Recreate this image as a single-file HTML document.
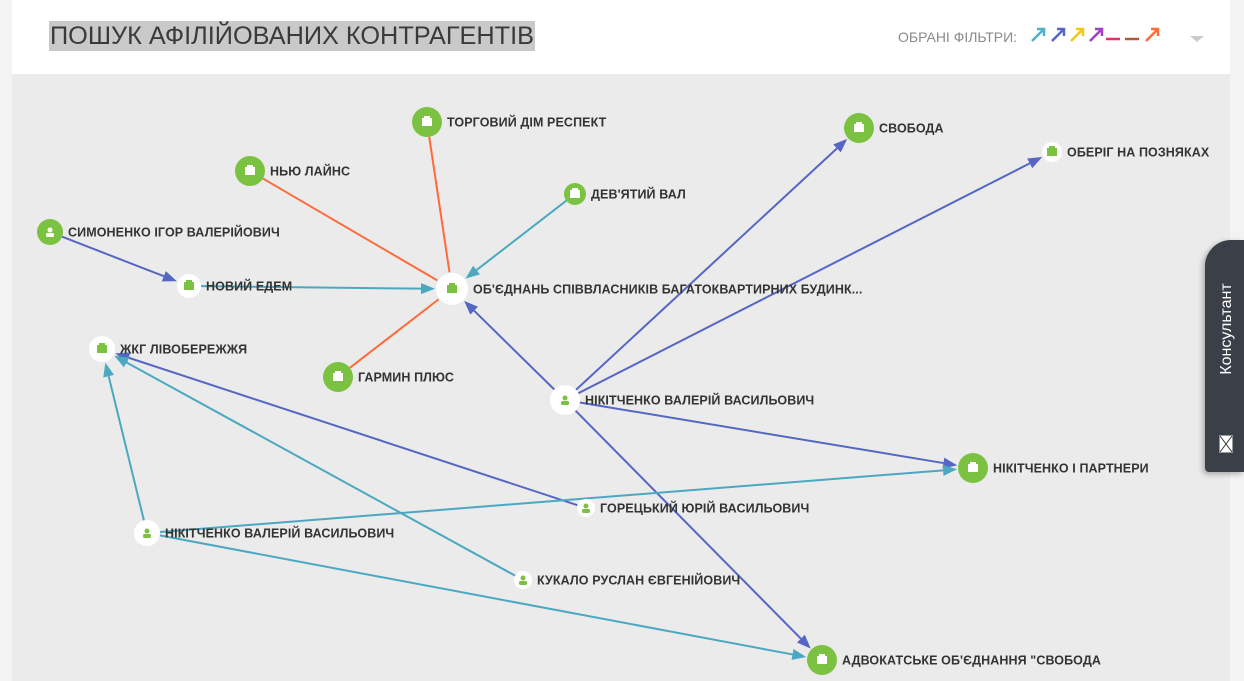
<!DOCTYPE html>
<html><head><meta charset="utf-8"><style>
body{margin:0;width:1244px;height:681px;overflow:hidden;background:#f3f3f3;font-family:"Liberation Sans",sans-serif;position:relative}
#hdr{position:absolute;left:12px;top:0;width:1218px;height:74px;background:#fff}
#title{position:absolute;left:37px;top:21px;height:30px;line-height:30px;background:#c9c9c9;color:#3a3a3a;font-size:25.3px;padding:0 1px 0 1px}
#filt{position:absolute;left:886px;top:29px;font-size:14px;color:#8a8a8a}
#cv{position:absolute;left:12px;top:74px;width:1218px;height:607px;background:#ebebeb}
#tab{position:absolute;left:1205px;top:240px;width:39px;height:232px;background:#3a3f48;border-radius:26px 0 0 4px;box-shadow:-2px 2px 6px rgba(0,0,0,.3)}
#tab span{position:absolute;left:-28px;top:80px;transform:rotate(-90deg);color:#fff;font-size:16px;width:100px;text-align:center}
svg text{font-family:"Liberation Sans",sans-serif;font-size:12.5px;font-weight:bold;fill:#333;letter-spacing:.1px}
</style></head><body>
<div id="hdr"><div id="title">ПОШУК АФІЛІЙОВАНИХ КОНТРАГЕНТІВ</div>
<div id="filt">ОБРАНІ ФІЛЬТРИ:</div>
<svg style="position:absolute;left:1016px;top:24px" width="180" height="24">
<g stroke-width="2.5" fill="none">
<path d="M4 17L15 6M9 5h7v7" stroke="#4fb0c6"/>
<path d="M24 17L35 6M29 5h7v7" stroke="#5566c4"/>
<path d="M43 17L54 6M48 5h7v7" stroke="#f5c518"/>
<path d="M62 17L73 6M67 5h7v7" stroke="#a040c0"/>
<path d="M78 15h14" stroke="#e0306a"/>
<path d="M97 15h14" stroke="#b0583a"/>
<path d="M118 17L129 6M123 5h7v7" stroke="#ff6a3a"/>
</g><path d="M162 12h14l-7 6z" fill="#ccc"/></svg>
</div>
<div id="cv"></div>
<svg id="g" style="position:absolute;left:0;top:0" width="1244" height="681"></svg>
<div id="tab"><span>Консультант</span>
<svg style="position:absolute;left:14px;top:195px" width="14" height="18"><rect x="0.5" y="0.5" width="13" height="17" fill="#fff" stroke="#999"/><path d="M1 1L13 17M13 1L1 17" stroke="#333"/></svg></div>
<script>
var N={
tr:[427,122,15,1,"ТОРГОВИЙ ДІМ РЕСПЕКТ",'b'],
nl:[250,171,15,1,"НЬЮ ЛАЙНС",'b'],
dv:[575,194,11,1,"ДЕВ'ЯТИЙ ВАЛ",'b'],
si:[50,232,13,1,"СИМОНЕНКО ІГОР ВАЛЕРІЙОВИЧ",'p'],
ne:[189,286,12,0,"НОВИЙ ЕДЕМ",'b'],
ob:[452,289,16,0,"ОБ'ЄДНАНЬ СПІВВЛАСНИКІВ БАГАТОКВАРТИРНИХ БУДИНК...",'b'],
zk:[102,349,13,0,"ЖКГ ЛІВОБЕРЕЖЖЯ",'b'],
ga:[338,377,15,1,"ГАРМИН ПЛЮС",'b'],
nc:[565,400,15,0,"НІКІТЧЕНКО ВАЛЕРІЙ ВАСИЛЬОВИЧ",'p'],
sv:[859,128,15,1,"СВОБОДА",'b'],
oh:[1052,152,10,0,"ОБЕРІГ НА ПОЗНЯКАХ",'b'],
np:[973,468,15,1,"НІКІТЧЕНКО І ПАРТНЕРИ",'b'],
go:[586,508,9,0,"ГОРЕЦЬКИЙ ЮРІЙ ВАСИЛЬОВИЧ",'p'],
nl2:[147,533,13,0,"НІКІТЧЕНКО ВАЛЕРІЙ ВАСИЛЬОВИЧ",'p'],
ku:[523,580,9,0,"КУКАЛО РУСЛАН ЄВГЕНІЙОВИЧ",'p'],
ad:[822,660,15,1,"АДВОКАТСЬКЕ ОБ'ЄДНАННЯ \"СВОБОДА",'b']};
var O="#ff6a3a",C="#4aa8c0",B="#5566c4";
var E=[["tr","ob",O,0],["nl","ob",O,0],["ga","ob",O,0],["dv","ob",C,1],["si","ne",B,1],["ne","ob",C,1],
["nc","ob",B,1],["nc","sv",B,1],["nc","oh",B,1],["nc","np",B,1],["nc","ad",B,1],
["go","zk",B,1],["ku","zk",C,1],["nl2","zk",C,1],["nl2","np",C,1],["nl2","ad",C,1]];
var s="";
E.forEach(function(e){var a=N[e[0]],b=N[e[1]];var dx=b[0]-a[0],dy=b[1]-a[1],L=Math.hypot(dx,dy),ux=dx/L,uy=dy/L;
var x1=a[0]+ux*a[2],y1=a[1]+uy*a[2],tx=b[0]-ux*(b[2]+1),ty=b[1]-uy*(b[2]+1);
if(e[3]){var bx=tx-ux*14,by=ty-uy*14,px=-uy*5.5,py=ux*5.5;
s+='<line x1="'+x1+'" y1="'+y1+'" x2="'+bx+'" y2="'+by+'" stroke="'+e[2]+'" stroke-width="2"/>';
s+='<polygon points="'+tx+','+ty+' '+(bx+px)+','+(by+py)+' '+(bx-px)+','+(by-py)+'" fill="'+e[2]+'"/>';}
else s+='<line x1="'+x1+'" y1="'+y1+'" x2="'+tx+'" y2="'+ty+'" stroke="'+e[2]+'" stroke-width="2"/>';});
for(var k in N){var n=N[k];var f=n[3]?"#7cc242":"#fff",ic=n[3]?"#fff":"#7cc242";
s+='<circle cx="'+n[0]+'" cy="'+n[1]+'" r="'+n[2]+'" fill="'+f+'"/>';
if(n[5]=='b')s+='<rect x="'+(n[0]-5)+'" y="'+(n[1]-4)+'" width="10" height="8" fill="'+ic+'"/><rect x="'+(n[0]-3)+'" y="'+(n[1]-6)+'" width="6" height="3" fill="'+ic+'"/>';
else s+='<circle cx="'+n[0]+'" cy="'+(n[1]-2)+'" r="2.5" fill="'+ic+'"/><rect x="'+(n[0]-4)+'" y="'+(n[1]+1)+'" width="8" height="4" rx="1.5" fill="'+ic+'"/>';
s+='<text x="'+(n[0]+n[2]+5)+'" y="'+(n[1]+4.5)+'">'+n[4].replace(/"/g,'&quot;')+'</text>';}
document.getElementById('g').innerHTML=s;
</script>
</body></html>
